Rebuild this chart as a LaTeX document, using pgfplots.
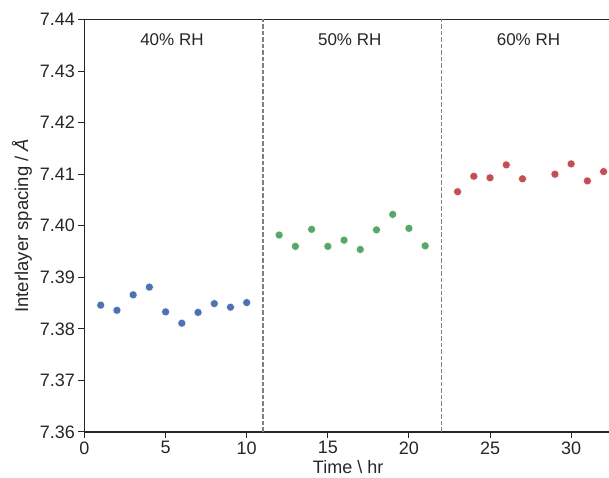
\documentclass[border=0pt]{standalone}
\usepackage{pgfplots}
\pgfplotsset{compat=1.18}
\usepackage{fontspec}
\setmainfont{Liberation Sans}
\definecolor{sblue}{HTML}{4C72B0}
\definecolor{sgreen}{HTML}{55A868}
\definecolor{sred}{HTML}{C44E52}
\definecolor{axcol}{HTML}{262626}
\definecolor{dashcol}{HTML}{808080}
\begin{document}
\begin{tikzpicture}[x=1pt,y=1pt]
\begin{axis}[
  at={(0,0)}, anchor=south west,
  scale only axis, width=527.2pt, height=412.5pt,
  xmin=0, xmax=32.5, ymin=7.36, ymax=7.44,
  axis x line*=box, axis y line*=left,
  xtick={0,5,10,15,20,25,30},
  ytick={7.36,7.37,7.38,7.39,7.40,7.41,7.42,7.43,7.44},
  xtick pos=bottom, ytick pos=left,
  tick align=outside, major tick length=6pt,
  tick style={color=axcol, line width=1pt},
  axis line style={color=axcol, line width=1.1pt},
  /pgf/number format/assume math mode=true,
  yticklabel style={/pgf/number format/fixed, /pgf/number format/precision=2, /pgf/number format/fixed zerofill},
  ticklabel style={font=\fontsize{18}{18}\selectfont, text=axcol},
  every axis y label/.style={at={(axis description cs:-0.1185,0.5)}, rotate=90, anchor=center, font=\fontsize{18.5}{18.5}\selectfont, text=axcol},
  every axis x label/.style={at={(axis description cs:0.5,0)}, anchor=base, yshift=-41.5pt, font=\fontsize{18}{18}\selectfont, text=axcol},
  xlabel={Time \textbackslash{} hr},
  ylabel={Interlayer spacing / \textit{Å}},
  clip=false,
]
\addplot[color=dashcol, line width=1.2pt, dash pattern=on 4.5pt off 2pt] coordinates {(11,7.36) (11,7.44)};
\addplot[color=dashcol, line width=1.2pt, dash pattern=on 4.5pt off 2pt] coordinates {(22,7.36) (22,7.44)};
\addplot[only marks, mark=*, mark size=4pt, color=sblue, mark options={draw=white, line width=0.4pt, fill=sblue}] coordinates {
(1,7.3846) (2,7.3836) (3,7.3866) (4,7.3881) (5,7.3833) (6,7.3811) (7,7.3832) (8,7.3849) (9,7.3842) (10,7.3851)};
\addplot[only marks, mark=*, mark size=4pt, color=sgreen, mark options={draw=white, line width=0.4pt, fill=sgreen}] coordinates {
(12,7.3982) (13,7.3960) (14,7.3993) (15,7.3960) (16,7.3972) (17,7.3954) (18,7.3992) (19,7.4022) (20,7.3995) (21,7.3961)};
\addplot[only marks, mark=*, mark size=4pt, color=sred, mark options={draw=white, line width=0.4pt, fill=sred}] coordinates {
(23,7.4066) (24,7.4096) (25,7.4093) (26,7.4118) (27,7.4091) (29,7.4100) (30,7.4120) (31,7.4087) (32,7.4105)};
\node[anchor=base, font=\fontsize{17}{17}\selectfont, text=axcol] at (axis cs:5.39,7.4349) {40\% RH};
\node[anchor=base, font=\fontsize{17}{17}\selectfont, text=axcol] at (axis cs:16.35,7.4349) {50\% RH};
\node[anchor=base, font=\fontsize{17}{17}\selectfont, text=axcol] at (axis cs:27.37,7.4349) {60\% RH};
\end{axis}
\pgfresetboundingbox
\useasboundingbox (-84.5,-46) rectangle (524.5,432);
\end{tikzpicture}
\end{document}
